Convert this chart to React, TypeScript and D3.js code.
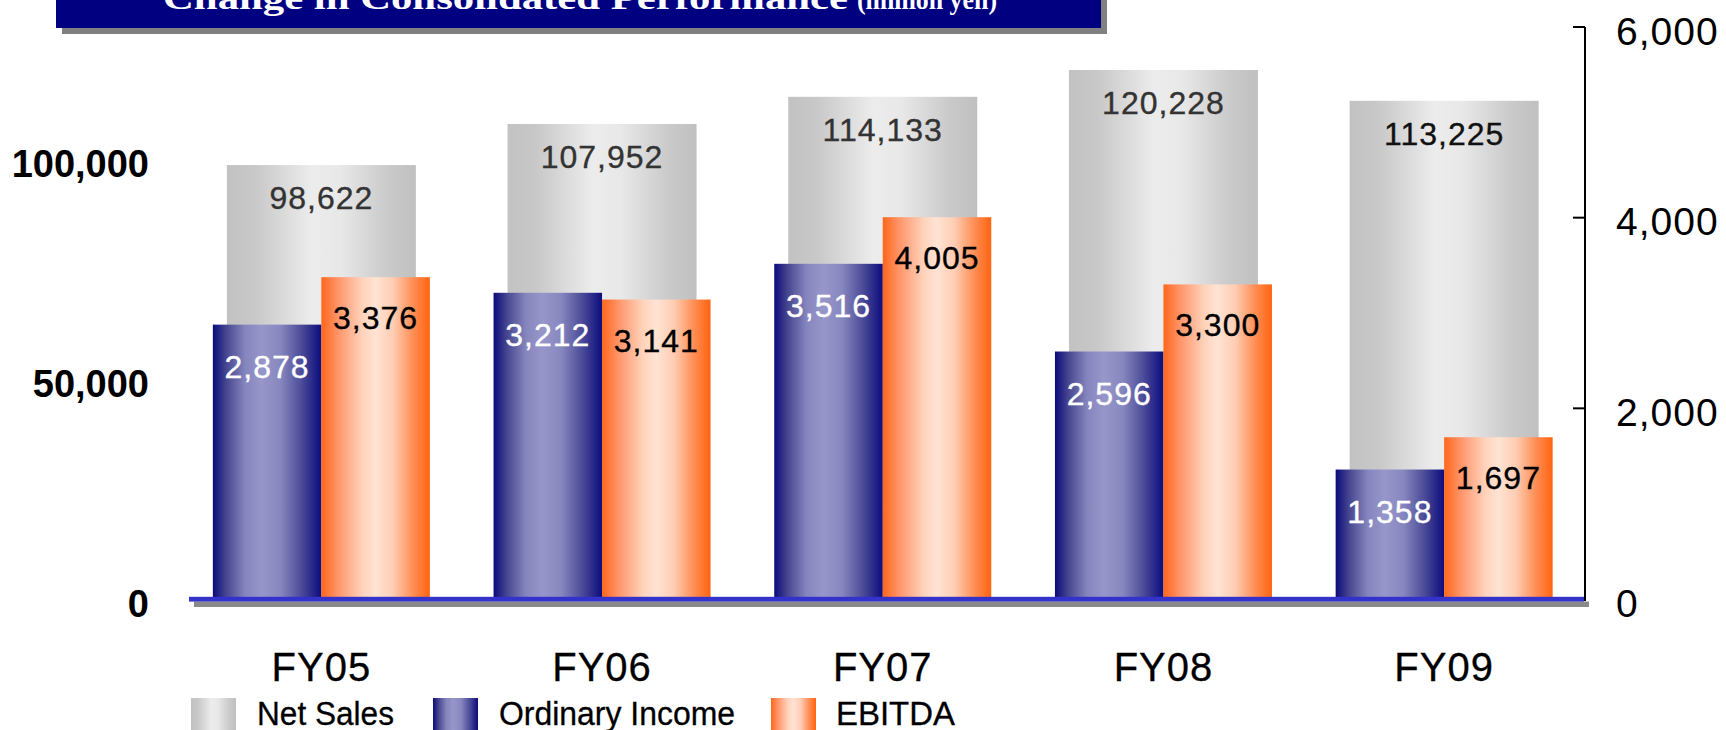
import React from "react";
import * as d3 from "d3";

const categories = ["FY05", "FY06", "FY07", "FY08", "FY09"];
const netSales = [98622, 107952, 114133, 120228, 113225];
const ordinaryIncome = [2878, 3212, 3516, 2596, 1358];
const ebitda = [3376, 3141, 4005, 3300, 1697];
const leftTicks = [0, 50000, 100000];
const rightTicks = [0, 2000, 4000, 6000];
const seriesNames = ["Net Sales", "Ordinary Income", "EBITDA"];
const titleMain = "Change in Consolidated Performance";
const titleUnit = "(million yen)";

const W = 1726;
const H = 730;
const Y0 = 599;
const YTOP = 27;

export default function App() {
  const x = d3.scaleBand<string>().domain(categories).range([181, 1584.5]).padding(0);
  const yL = d3.scaleLinear().domain([0, 130000]).range([Y0, YTOP]);
  const yR = d3.scaleLinear().domain([0, 6000]).range([Y0, YTOP]);
  const fmt = d3.format(",");
  const nsW = 189;
  const subW = 108.5;
  const sans = "'Liberation Sans', Arial, sans-serif";

  const grad = (id: string, stops: [number, string][]) => (
    <linearGradient id={id} x1="0" x2="1" y1="0" y2="0">
      {stops.map(([o, c], i) => (
        <stop key={i} offset={o} stopColor={c} />
      ))}
    </linearGradient>
  );

  const legendItems = [
    { name: seriesNames[0], fill: "url(#gNS)", sx: 191, tx: 257, tl: 137 },
    { name: seriesNames[1], fill: "url(#gOI)", sx: 433, tx: 499, tl: 236 },
    { name: seriesNames[2], fill: "url(#gEB)", sx: 771, tx: 836, tl: 119 },
  ];

  const valueText = (key: string, tx: number, ty: number, label: string, color: string) => (
    <text
      key={key}
      x={tx}
      y={ty}
      textAnchor="middle"
      dominantBaseline="central"
      fontFamily={sans}
      fontSize={32}
      letterSpacing={1}
      fill={color}
      stroke={color}
      strokeWidth={0.35}
    >
      {label}
    </text>
  );

  return (
    <svg
      width={W}
      height={H}
      style={{ position: "absolute", left: 0, top: 0, display: "block", background: "#fff" }}
    >
      <defs>
        {grad("gNS", [
          [0, "#c2c2c2"],
          [0.15, "#c8c8c8"],
          [0.45, "#ececec"],
          [0.6, "#e8e8e8"],
          [0.85, "#cacaca"],
          [1, "#c0c0c0"],
        ])}
        {grad("gOI", [
          [0, "#0a0a7c"],
          [0.12, "#45458f"],
          [0.3, "#8686bf"],
          [0.45, "#9696ca"],
          [0.62, "#8888c0"],
          [0.82, "#4a4a98"],
          [1, "#0c0c7e"],
        ])}
        {grad("gEB", [
          [0, "#ff661a"],
          [0.15, "#ff9468"],
          [0.38, "#ffd3bc"],
          [0.5, "#ffe3d3"],
          [0.66, "#ffcdb3"],
          [0.85, "#ff8c52"],
          [1, "#ff6410"],
        ])}
      </defs>

      {/* Title banner */}
      <rect x={62} y={-10} width={1045} height={44} fill="#808080" />
      <rect x={56} y={-16} width={1045} height={44} fill="#000080" />
      <text
        x={163}
        y={9}
        fill="#fff"
        fontFamily="'Liberation Serif', 'Times New Roman', serif"
        fontWeight="bold"
        fontSize={32}
        textLength={685}
        lengthAdjust="spacingAndGlyphs"
      >
        {titleMain}
      </text>
      <text
        x={857}
        y={9}
        fill="#fff"
        fontFamily="'Liberation Serif', 'Times New Roman', serif"
        fontWeight="bold"
        fontSize={28}
        textLength={140}
        lengthAdjust="spacingAndGlyphs"
      >
        {titleUnit}
      </text>

      {/* Net sales bars */}
      {categories.map((c, i) => {
        const cx = (x(c) as number) + x.bandwidth() / 2;
        const top = yL(netSales[i]);
        return (
          <g key={"ns" + c}>
            <rect x={cx - nsW / 2} y={top} width={nsW} height={Y0 - top} fill="url(#gNS)" />
            {valueText("nst" + c, cx, top + 33, fmt(netSales[i]), i === 4 ? "#111" : "#333")}
          </g>
        );
      })}

      {/* Ordinary income & EBITDA bars */}
      {categories.map((c, i) => {
        const cx = (x(c) as number) + x.bandwidth() / 2;
        const tOI = yR(ordinaryIncome[i]);
        const tEB = yR(ebitda[i]);
        return (
          <g key={"sub" + c}>
            <rect x={cx - subW} y={tOI} width={subW} height={Y0 - tOI} fill="url(#gOI)" />
            <rect x={cx} y={tEB} width={subW} height={Y0 - tEB} fill="url(#gEB)" />
            {valueText("oit" + c, cx - subW / 2, tOI + 42, fmt(ordinaryIncome[i]), "#fff")}
            {valueText("ebt" + c, cx + subW / 2, tEB + 41, fmt(ebitda[i]), "#000")}
          </g>
        );
      })}

      {/* Baseline with shadow */}
      <rect x={194} y={601.5} width={1395} height={5.5} fill="#8a8a8a" />
      <rect x={189} y={596.8} width={1395} height={4.8} fill="#3333cc" />

      {/* Right axis */}
      <line x1={1585} x2={1585} y1={yR(6000)} y2={Y0 + 2} stroke="#000" strokeWidth={2} />
      {rightTicks.map((t) => (
        <g key={"rt" + t}>
          {t > 0 && <line x1={1573} x2={1585} y1={yR(t)} y2={yR(t)} stroke="#000" strokeWidth={2} />}
          <text
            x={1616}
            y={yR(t) + 4}
            dominantBaseline="central"
            fontFamily={sans}
            fontSize={39}
            letterSpacing={1}
            fill="#000"
          >
            {fmt(t)}
          </text>
        </g>
      ))}

      {/* Left axis labels */}
      {leftTicks.map((t) => (
        <text
          key={"lt" + t}
          x={149}
          y={yL(t) + 5}
          textAnchor="end"
          dominantBaseline="central"
          fontFamily={sans}
          fontWeight="bold"
          fontSize={38}
          fill="#000"
        >
          {fmt(t)}
        </text>
      ))}

      {/* Category labels */}
      {categories.map((c) => (
        <text
          key={"cl" + c}
          x={(x(c) as number) + x.bandwidth() / 2}
          y={667}
          textAnchor="middle"
          dominantBaseline="central"
          fontFamily={sans}
          fontSize={40}
          letterSpacing={1}
          fill="#000"
          stroke="#000"
          strokeWidth={0.3}
        >
          {c}
        </text>
      ))}

      {/* Legend */}
      {legendItems.map((l) => (
        <g key={"lg" + l.name}>
          <rect x={l.sx} y={698} width={45} height={32} fill={l.fill} />
          <text
            x={l.tx}
            y={725}
            fontFamily={sans}
            fontSize={33}
            textLength={l.tl}
            lengthAdjust="spacingAndGlyphs"
            fill="#000"
            stroke="#000"
            strokeWidth={0.3}
          >
            {l.name}
          </text>
        </g>
      ))}
    </svg>
  );
}
